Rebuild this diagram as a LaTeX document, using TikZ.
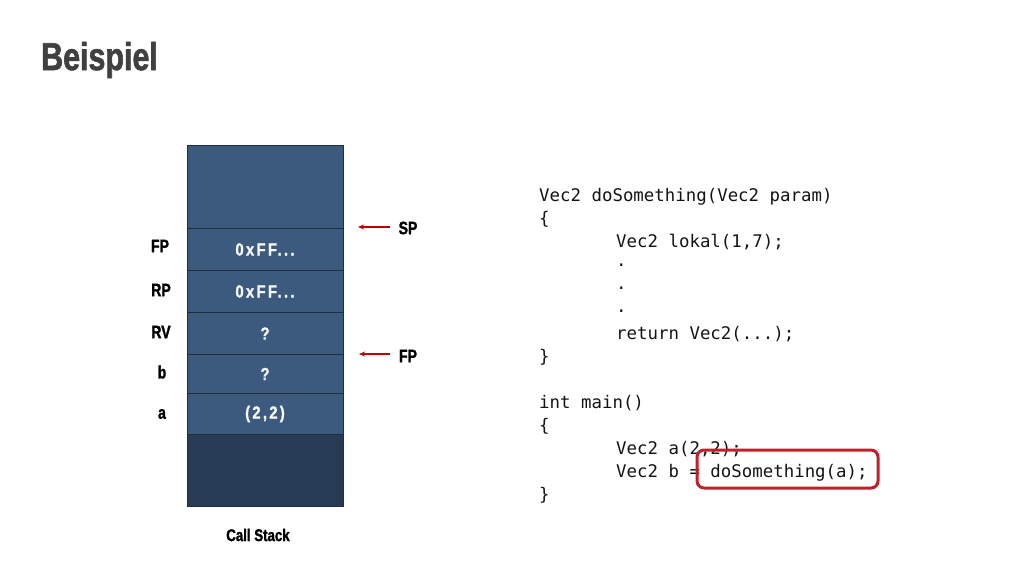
\documentclass[tikz,border=0pt]{standalone}
\usepackage{fontspec}
\setmainfont{Liberation Sans}
\newfontfamily\condfont[FakeStretch=0.78,FakeBold=1.5]{Liberation Sans}
\newfontfamily\cellfont[FakeStretch=0.85,LetterSpace=13,FakeBold=1.2]{Liberation Sans}
\newfontfamily\codefont{DejaVu Sans Mono}
\usetikzlibrary{arrows.meta}
\definecolor{cellblue}{HTML}{3B5A7D}
\definecolor{celldark}{HTML}{283B54}
\definecolor{cellline}{HTML}{1E2D40}
\definecolor{arrred}{HTML}{C00000}
\definecolor{boxred}{HTML}{C0202A}
\definecolor{titlegrey}{HTML}{404040}
\tikzset{
  cell/.style={draw=cellline, line width=1pt, fill=cellblue, minimum width=156pt, inner sep=0pt, anchor=north,
    text=white!95!cellblue, font=\cellfont\bfseries\fontsize{17.5}{17.5}\selectfont},
  lbl/.style={font=\condfont\bfseries\fontsize{18}{18}\selectfont, text=black, inner sep=0pt},
  code/.style={font=\codefont\fontsize{17.4}{17.4}\selectfont, anchor=west, inner sep=0pt, text=black!92},
  ptr/.style={draw=arrred, line width=1.2pt, -{Stealth[length=6pt,width=5pt]}},
}
\begin{document}
\begin{tikzpicture}[x=1pt,y=-1pt]
\useasboundingbox (0,0) rectangle (1024,576);
\node[font=\condfont\bfseries\fontsize{39}{39}\selectfont, text=titlegrey, anchor=west, inner sep=0pt] (title) at (41,60) {Beispiel};

% stack cells
\node[cell, minimum height=83pt] (c0) at (265,145) {};
\node[cell, minimum height=42pt] (c1) at (265,228) {0xFF...};
\node[cell, minimum height=42pt] (c2) at (265,270) {0xFF...};
\node[cell, minimum height=42pt] (c3) at (265,312) {?};
\node[cell, minimum height=39pt] (c4) at (265,354) {?};
\node[cell, minimum height=41pt] (c5) at (265,393) {(2,2)};
\node[cell, fill=celldark, minimum height=72pt] (c6) at (265,434) {};

% left labels
\node[lbl] (lfp) at (160,246) {FP};
\node[lbl] (lrp) at (161,290) {RP};
\node[lbl] (lrv) at (161,332) {RV};
\node[lbl] (lb) at (162,372) {b};
\node[lbl] (la) at (162,414) {a};

\node[lbl, font=\condfont\bfseries\fontsize{17}{17}\selectfont] (cs) at (258,535) {Call Stack};

% pointers
\node[lbl] (sp) at (408,228) {SP};
\coordinate (sps) at (390,227);
\coordinate (spe) at (358,227);
\draw[ptr] (sps) -- (spe);
\node[lbl] (fp) at (408,356) {FP};
\coordinate (fps) at (390,354);
\coordinate (fpe) at (359,354);
\draw[ptr] (fps) -- (fpe);

% code
\begin{scope}[yshift=-2.5pt]
\node[code] (l1) at (539,194) {Vec2 doSomething(Vec2 param)};
\node[code] (l2) at (539,217) {\{};
\node[code] (l3) at (616,240) {Vec2 lokal(1,7);};
\node[code] (l4) at (616,263) {.};
\node[code] (l5) at (616,286) {.};
\node[code] (l6) at (616,309) {.};
\node[code] (l7) at (616,332) {return Vec2(...);};
\node[code] (l8) at (539,355) {\}};
\node[code] (l9) at (539,401) {int main()};
\node[code] (l10) at (539,424) {\{};
\node[code] (l11) at (616,447) {Vec2 a(2,2);};
\node[code] (l12) at (616,470) {Vec2 b = doSomething(a);};
\node[code] (l13) at (539,493) {\}};
\end{scope}

\node[draw=boxred, line width=3pt, rounded corners=7pt, minimum width=181pt, minimum height=38pt, inner sep=0pt] (hl) at (787.5,469) {};
\end{tikzpicture}
\end{document}
